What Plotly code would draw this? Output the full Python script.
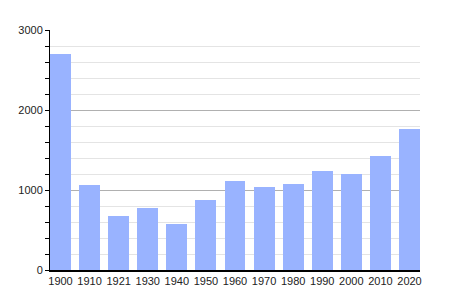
import plotly.graph_objects as go

years = ["1900", "1910", "1921", "1930", "1940", "1950", "1960", "1970", "1980", "1990", "2000", "2010", "2020"]
population = [2700, 1062, 675, 778, 575, 875, 1112, 1037, 1075, 1237, 1200, 1425, 1762]
y_ticks = [0, 1000, 2000, 3000]

idx = list(range(len(years)))

fig = go.Figure()
fig.add_trace(go.Bar(
    x=idx, y=population, width=0.72,
    marker=dict(color="#99b3ff", line=dict(width=0)),
    hoverinfo="skip",
))

fig.update_layout(
    width=450, height=300,
    margin=dict(l=50, r=30, t=30, b=30),
    paper_bgcolor="white", plot_bgcolor="white",
    showlegend=False,
    font=dict(family="Liberation Sans, Arial, sans-serif", size=11, color="#222222"),
    bargap=0,
)
fig.update_xaxes(
    range=[-0.361, 12.361],
    tickvals=idx, ticktext=years,
    showgrid=False, zeroline=False,
    showline=True, linecolor="black", linewidth=1.5,
    ticks="", tickfont=dict(size=11),
)
fig.update_yaxes(
    range=[0, 3000],
    tickvals=y_ticks, ticktext=[str(v) for v in y_ticks],
    showgrid=True, gridcolor="#b0b0b0", gridwidth=1,
    zeroline=False,
    showline=True, linecolor="black", linewidth=1,
    ticks="outside", ticklen=4, tickcolor="black",
    minor=dict(dtick=200, showgrid=True, gridcolor="#e4e4e4", ticks="outside", ticklen=4, tickcolor="black"),
    tickfont=dict(size=11),
)

fig.write_html("out.html")
